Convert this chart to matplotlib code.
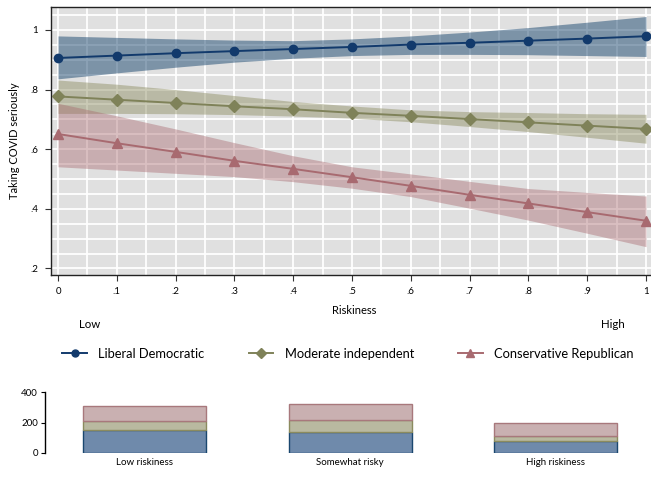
import matplotlib
matplotlib.use("Agg")
import matplotlib.pyplot as plt
from matplotlib.lines import Line2D
import numpy as np

plt.rcParams['font.family'] = ['Lato', 'DejaVu Sans']

# ---- data ----
riskiness = [0, 0.1, 0.2, 0.3, 0.4, 0.5, 0.6, 0.7, 0.8, 0.9, 1.0]

lib_mean = [0.906, 0.914, 0.922, 0.929, 0.936, 0.943, 0.951, 0.957, 0.964, 0.971, 0.979]
lib_lo   = [0.836, 0.856, 0.875, 0.892, 0.905, 0.914, 0.918, 0.918, 0.917, 0.914, 0.911]
lib_hi   = [0.980, 0.975, 0.970, 0.966, 0.964, 0.970, 0.980, 0.993, 1.008, 1.026, 1.045]

mod_mean = [0.777, 0.766, 0.755, 0.744, 0.734, 0.722, 0.712, 0.701, 0.690, 0.679, 0.668]
mod_lo   = [0.720, 0.720, 0.719, 0.716, 0.711, 0.704, 0.692, 0.676, 0.659, 0.640, 0.620]
mod_hi   = [0.832, 0.818, 0.800, 0.780, 0.760, 0.745, 0.732, 0.726, 0.723, 0.719, 0.717]

con_mean = [0.651, 0.620, 0.591, 0.561, 0.534, 0.506, 0.477, 0.447, 0.418, 0.389, 0.360]
con_lo   = [0.541, 0.530, 0.519, 0.508, 0.491, 0.469, 0.441, 0.402, 0.362, 0.318, 0.273]
con_hi   = [0.754, 0.712, 0.668, 0.622, 0.578, 0.541, 0.517, 0.492, 0.468, 0.455, 0.443]

series_names = ['Liberal Democratic', 'Moderate independent', 'Conservative Republican']

bar_cats = ['Low riskiness', 'Somewhat risky', 'High riskiness']
bar_lib = [150, 139, 80]
bar_mod = [60, 77, 33]
bar_con = [101, 104, 82]

x_ticks = [0, 0.1, 0.2, 0.3, 0.4, 0.5, 0.6, 0.7, 0.8, 0.9, 1.0]
x_ticklabels = ['0', '.1', '.2', '.3', '.4', '.5', '.6', '.7', '.8', '.9', '1']
y_ticks = [0.2, 0.4, 0.6, 0.8, 1.0]
y_ticklabels = ['.2', '.4', '.6', '.8', '1']

# ---- style ----
c_lib = '#123a6c'
c_mod = '#7f8259'
c_con = '#a86a70'
band_lib = '#1a476f'
band_mod = '#8b8b5e'
band_con = '#a8686e'

fig = plt.figure(figsize=(6.51, 4.79), dpi=100)

ax = fig.add_axes([0.0779, 0.4259, 0.9221, 0.5595])
ax.set_facecolor('#e0e0e0')
ax.set_xlim(-0.0124, 1.0085)
ax.set_ylim(0.178, 1.077)

for v in np.arange(0, 1.0001, 0.05):
    ax.axvline(v, color='white', lw=1.3, zorder=0.5)
for v in np.arange(0.2, 1.0751, 0.05):
    ax.axhline(v, color='white', lw=1.3, zorder=0.5)

ax.fill_between(riskiness, lib_lo, lib_hi, color=band_lib, alpha=0.5, lw=0, zorder=1)
ax.fill_between(riskiness, mod_lo, mod_hi, color=band_mod, alpha=0.45, lw=0, zorder=1)
ax.fill_between(riskiness, con_lo, con_hi, color=band_con, alpha=0.42, lw=0, zorder=1)

ax.plot(riskiness, lib_mean, color=c_lib, marker='o', ms=6, lw=1.4, zorder=3)
ax.plot(riskiness, mod_mean, color=c_mod, marker='D', ms=6, lw=1.4, zorder=3)
ax.plot(riskiness, con_mean, color=c_con, marker='^', ms=6.5, lw=1.4, zorder=3)

ax.set_xticks(x_ticks)
ax.set_xticklabels(x_ticklabels)
ax.set_yticks(y_ticks)
ax.set_yticklabels(y_ticklabels)
ax.tick_params(axis='both', labelsize=7, length=4, width=0.8, color='#333333', pad=5)
ax.spines['right'].set_visible(False)
for s in ['left', 'bottom', 'top']:
    ax.spines[s].set_color('#222222')
    ax.spines[s].set_linewidth(1.0)

ax.set_ylabel('Taking COVID seriously', fontsize=8, labelpad=7)
fig.text(354 / 651, 1 - 311 / 479, 'Riskiness', ha='center', va='center', fontsize=8)
fig.text(90 / 651, 1 - 324 / 479, 'Low', ha='center', va='center', fontsize=8.3)
fig.text(613 / 651, 1 - 324 / 479, 'High', ha='center', va='center', fontsize=8.3)

handles = [
    Line2D([], [], color=c_lib, marker='o', ms=5, lw=1.4),
    Line2D([], [], color=c_mod, marker='D', ms=5, lw=1.4),
    Line2D([], [], color=c_con, marker='^', ms=6, lw=1.4),
]
fig.legend(handles, series_names, loc='center', bbox_to_anchor=(348 / 651, 1 - 354 / 479),
           ncol=3, frameon=False, fontsize=9.3, handlelength=1.9, columnspacing=3.4,
           handletextpad=0.9)

# ---- bottom bar chart ----
bx = fig.add_axes([0.0691, 0.0549, 0.9309, 0.1261])
pos = np.arange(len(bar_cats))
w = 0.6
bx.bar(pos, bar_lib, width=w, color='#6f8aab', edgecolor='#1a476f', lw=1.0)
bx.bar(pos, bar_mod, width=w, bottom=bar_lib, color='#b9b9a0', edgecolor='#8b8b5e', lw=1.0)
bot2 = [a + b for a, b in zip(bar_lib, bar_mod)]
bx.bar(pos, bar_con, width=w, bottom=bot2, color='#c9b0b1', edgecolor='#a8787c', lw=1.0)
bx.set_xlim(-0.485, 2.464)
bx.set_ylim(0, 400)
bx.set_yticks([0, 200, 400])
bx.set_xticks(pos)
bx.set_xticklabels(bar_cats)
bx.tick_params(axis='y', labelsize=7, length=3, width=0.8, pad=2)
bx.tick_params(axis='x', labelsize=7, length=0, pad=4)
for s in ['right', 'top', 'bottom']:
    bx.spines[s].set_visible(False)
bx.spines['left'].set_linewidth(1.0)

fig.savefig('out.png', dpi=100)
